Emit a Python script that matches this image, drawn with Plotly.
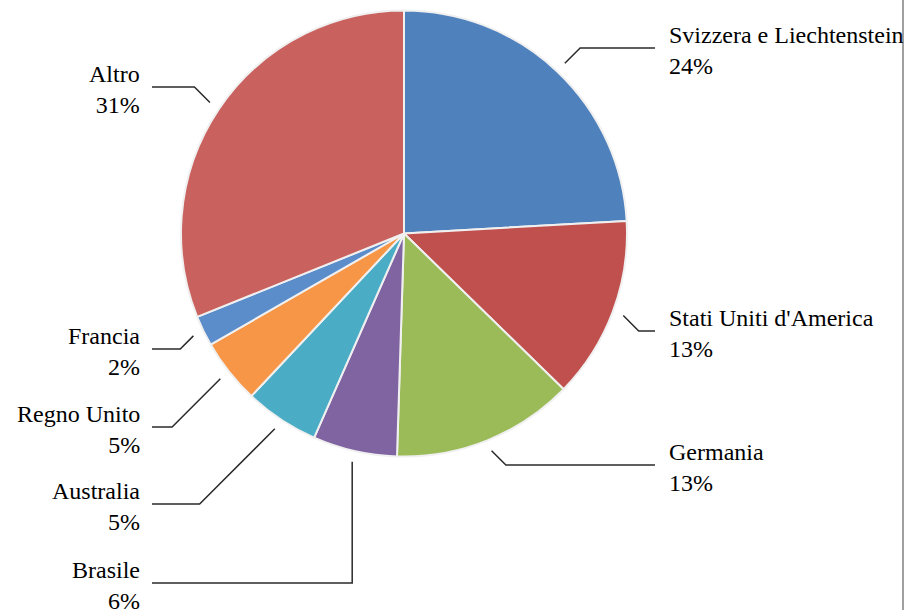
import math
import plotly.graph_objects as go

# ---- data ----
countries = ["Svizzera e Liechtenstein", "Stati Uniti d'America", "Germania", "Brasile",
             "Australia", "Regno Unito", "Francia", "Altro"]
shares = [24.1, 13.2, 13.2, 6.1, 5.4, 4.7, 2.2, 31.1]

# ---- styling / layout ----
colors = ["#4F81BD", "#C0504D", "#9BBB59", "#8064A2", "#4BACC6", "#F79646", "#5B8DCB", "#C9615E"]
label_side = ["right", "right", "right", "left", "left", "left", "left", "left"]
leader_style = ["diag", "diag", "diag", "vert", "diag", "diag", "diag", "diag"]
leader_y = [48, 331, 465, 583, 504, 427, 349, 87]

W, H = 907, 610
CX, CY, R = 404, 233.5, 223
LEAD_R = 1.05 * R
RIGHT_TEXT_X, LEFT_TEXT_X = 667, 142
RIGHT_END_X, LEFT_END_X = 655, 152
FONT = "Liberation Serif, Times New Roman, serif"
FS = 24

fig = go.Figure()
fig.add_trace(go.Pie(
    labels=countries, values=shares, sort=False, direction="clockwise", rotation=0,
    marker=dict(colors=colors, line=dict(color="#F0F0F0", width=2)),
    textinfo="none", hoverinfo="label+percent", showlegend=False,
    domain=dict(x=[(CX - R) / W, (CX + R) / W], y=[1 - (CY + R) / H, 1 - (CY - R) / H]),
))

total = sum(shares)
cum = 0.0
annotations = []
for i, (name, v) in enumerate(zip(countries, shares)):
    mid = (cum + v / 2) / total
    cum += v
    th = 2 * math.pi * mid
    sx = CX + LEAD_R * math.sin(th)
    sy = CY - LEAD_R * math.cos(th)
    ly = leader_y[i]
    right = label_side[i] == "right"
    sign = 1 if right else -1
    if leader_style[i] == "vert":
        ex = sx
    else:
        ex = sx + sign * abs(ly - sy)
    endx = RIGHT_END_X if right else LEFT_END_X
    fig.add_trace(go.Scatter(
        x=[sx, ex, endx], y=[sy, ly, ly], mode="lines",
        line=dict(color="#2A2A2A", width=1.5), hoverinfo="skip", showlegend=False,
    ))
    pct = round(100 * v / total)
    annotations.append(dict(
        x=RIGHT_TEXT_X if right else LEFT_TEXT_X, y=ly - 28,
        xref="x", yref="y", xanchor="left" if right else "right", yanchor="top",
        align="left" if right else "right", showarrow=False,
        text=f"{name}<br>{pct}%", font=dict(family=FONT, size=FS, color="#000000"),
    ))

fig.update_layout(
    width=W, height=H, margin=dict(l=0, r=0, t=0, b=0),
    paper_bgcolor="white", plot_bgcolor="rgba(0,0,0,0)",
    xaxis=dict(range=[0, W], visible=False, fixedrange=True),
    yaxis=dict(range=[H, 0], visible=False, fixedrange=True),
    annotations=annotations,
    shapes=[dict(type="line", xref="paper", yref="paper", x0=903 / W, x1=903 / W, y0=0, y1=1,
                 line=dict(color="#A0A0A0", width=2))],
)

fig.write_html("out.html", config={"displayModeBar": False},
               post_script="document.body.style.margin='0';document.body.style.overflow='hidden';")
